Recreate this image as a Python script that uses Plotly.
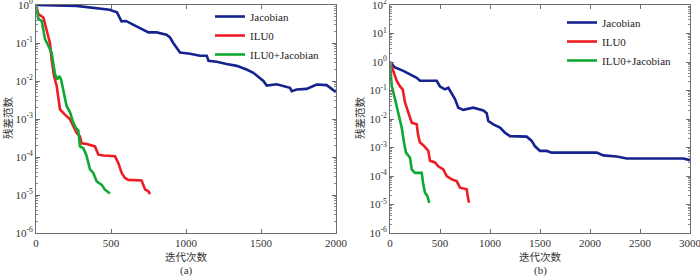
import plotly.graph_objects as go

# ---------------- data ----------------
# Panel (a)
a_jac_x = [0, 270, 490, 540, 570, 600, 650, 715, 750, 805, 870, 893, 915, 960, 1027, 1093, 1138, 1150, 1204,
           1271, 1338, 1404, 1449, 1516, 1538, 1604, 1693, 1705, 1738, 1804, 1871, 1938, 2000]
a_jac_y = [1.0, 0.95, 0.75, 0.64, 0.37, 0.38, 0.30, 0.23, 0.19, 0.19, 0.165, 0.14, 0.10, 0.056, 0.052, 0.046,
           0.046, 0.034, 0.032, 0.028, 0.025, 0.020, 0.0165, 0.010, 0.0076, 0.0082, 0.0066, 0.0054, 0.006,
           0.0062, 0.0081, 0.0078, 0.0051]
a_ilu_x = [0, 16, 49, 71, 93, 104, 120, 138, 156, 160, 193, 227, 249, 271, 293, 304, 338, 393, 416, 449, 527,
           549, 571, 593, 616, 704, 727, 749, 760]
a_ilu_y = [1.0, 0.58, 0.47, 0.23, 0.10, 0.037, 0.0135, 0.0074, 0.0022, 0.0018, 0.0013, 0.00098, 0.00065,
           0.00043, 0.00035, 0.00023, 0.00022, 0.00019, 0.000115, 0.00011, 0.000105, 6.9e-5, 3.8e-5, 2.8e-5,
           2.5e-5, 2.4e-5, 1.4e-5, 1.25e-5, 1.05e-5]
a_gre_x = [0, 16, 38, 49, 60, 82, 104, 116, 127, 142, 156, 167, 182, 204, 227, 249, 267, 282, 293, 316, 338,
           360, 382, 404, 438, 460, 493]
a_gre_y = [1.0, 0.43, 0.38, 0.23, 0.126, 0.085, 0.056, 0.0275, 0.015, 0.011, 0.0135, 0.011, 0.006, 0.0022,
           0.0015, 0.00079, 0.00057, 0.0005, 0.00019, 0.00017, 0.000105, 4.7e-5, 3.8e-5, 2.3e-5, 1.85e-5,
           1.38e-5, 1.1e-5]

# Panel (b)
b_jac_x = [0, 50, 133, 200, 267, 300, 367, 467, 500, 550, 583, 617, 650, 683, 733, 833, 933, 967, 983, 1033,
           1100, 1150, 1200, 1367, 1417, 1450, 1500, 1567, 1617, 2067, 2133, 2267, 2367, 2933, 3000]
b_jac_y = [1.0, 0.64, 0.49, 0.37, 0.28, 0.22, 0.22, 0.22, 0.138, 0.11, 0.125, 0.074, 0.050, 0.025, 0.021,
           0.025, 0.020, 0.016, 0.0085, 0.0065, 0.005, 0.0033, 0.0025, 0.0024, 0.0017, 0.0011, 0.00076,
           0.00076, 0.00066, 0.00066, 0.00053, 0.00048, 0.00041, 0.00041, 0.00036]
b_ilu_x = [0, 33, 67, 100, 127, 150, 183, 217, 267, 283, 300, 333, 383, 400, 450, 483, 533, 567, 617, 667,
           700, 767, 777, 790]
b_ilu_y = [1.0, 0.49, 0.22, 0.138, 0.11, 0.038, 0.0166, 0.0074, 0.0065, 0.0025, 0.0015, 0.0012, 0.00076,
           0.00034, 0.0003, 0.00022, 0.00017, 0.0001, 7.6e-5, 6.6e-5, 3.9e-5, 3.4e-5, 2.0e-5, 1.15e-5]
b_gre_x = [0, 17, 50, 83, 117, 140, 160, 200, 217, 250, 317, 333, 350, 373, 393]
b_gre_y = [1.0, 0.145, 0.05, 0.0166, 0.005, 0.0015, 0.00066, 0.00044, 0.00017, 0.000129, 0.000129, 5.0e-5,
           2.6e-5, 2.0e-5, 1.15e-5]

series_names = ["Jacobian", "ILU0", "ILU0+Jacobian"]
series_colors = ["#16238f", "#ee1c24", "#10a835"]

a_xticks = [0, 500, 1000, 1500, 2000]
b_xticks = [0, 500, 1000, 1500, 2000, 2500, 3000]
a_yexp = [-6, -5, -4, -3, -2, -1, 0]
b_yexp = [-6, -5, -4, -3, -2, -1, 0, 1, 2]

x_title = "迭代次数"
y_title = "残差范数"
sub_labels = ["(a)", "(b)"]

# ---------------- figure ----------------
SERIF = "Liberation Serif, Times New Roman, serif"
CJK = "Noto Sans CJK SC"
fig = go.Figure()

panels = [
    ("x", "y", "legend", [(a_jac_x, a_jac_y), (a_ilu_x, a_ilu_y), (a_gre_x, a_gre_y)]),
    ("x2", "y2", "legend2", [(b_jac_x, b_jac_y), (b_ilu_x, b_ilu_y), (b_gre_x, b_gre_y)]),
]
for xa, ya, lg, data in panels:
    for (xs, ys), name, col in zip(data, series_names, series_colors):
        fig.add_trace(go.Scatter(x=xs, y=ys, mode="lines", name=name, xaxis=xa, yaxis=ya, legend=lg,
                                 line=dict(color=col, width=2.6)))

axis_common = dict(showgrid=False, zeroline=False, showline=True, linecolor="#6e6e6e", linewidth=1,
                   mirror="allticks", ticks="inside", ticklen=4, tickcolor="#6e6e6e", automargin=False,
                   ticklabeloverflow="allow",
                   tickfont=dict(family=SERIF, size=11, color="#333"))

def ytext(exps):
    return ["10<sup>%d</sup>" % e for e in exps]

def minor_vals(exps):
    return [m * 10 ** e for e in exps[:-1] for m in range(2, 10)]

W, H = 700, 277
ybot, ytop = 1 - 233 / H, 1 - 5 / H
minor_style = dict(ticks="inside", ticklen=2, tickcolor="#8a8a8a", showgrid=False)
fig.update_layout(
    width=W, height=H, margin=dict(l=0, r=0, t=0, b=0, autoexpand=False),
    paper_bgcolor="white", plot_bgcolor="white",
    xaxis=dict(domain=[36 / W, 336 / W], range=[0, 2000], tickvals=a_xticks, anchor="y", **axis_common),
    yaxis=dict(domain=[ybot, ytop], type="log", range=[-6, 0], tickvals=[10 ** e for e in a_yexp],
               ticktext=ytext(a_yexp), anchor="x",
               minor=dict(tickvals=minor_vals(a_yexp), **minor_style), **axis_common),
    xaxis2=dict(domain=[390 / W, 690 / W], range=[0, 3000], tickvals=b_xticks, anchor="y2", **axis_common),
    yaxis2=dict(domain=[ybot, ytop], type="log", range=[-6, 2], tickvals=[10 ** e for e in b_yexp],
                ticktext=ytext(b_yexp), anchor="x2",
                minor=dict(tickvals=minor_vals(b_yexp), **minor_style), **axis_common),
    legend=dict(x=210 / W, y=1 - 2 / H, xanchor="left", yanchor="top", bgcolor="rgba(0,0,0,0)",
                font=dict(family=SERIF, size=11, color="#222"), tracegroupgap=0, itemwidth=30),
    legend2=dict(x=562 / W, y=1 - 8 / H, xanchor="left", yanchor="top", bgcolor="rgba(0,0,0,0)",
                 font=dict(family=SERIF, size=11, color="#222"), tracegroupgap=0, itemwidth=30),
    showlegend=True,
)

anns = []
for cx, lab in [(186, sub_labels[0]), (540, sub_labels[1])]:
    anns.append(dict(x=cx / W, y=1 - 256 / H, xref="paper", yref="paper", text=x_title, showarrow=False,
                     font=dict(family=CJK, size=10.5, color="#333"), xanchor="center", yanchor="middle"))
    anns.append(dict(x=cx / W, y=1 - 270 / H, xref="paper", yref="paper", text=lab, showarrow=False,
                     font=dict(family=SERIF, size=11, color="#333"), xanchor="center", yanchor="middle"))
for cx in [7, 359]:
    anns.append(dict(x=cx / W, y=1 - 118 / H, xref="paper", yref="paper", text=y_title, showarrow=False,
                     textangle=-90, font=dict(family=CJK, size=10.5, color="#333"),
                     xanchor="center", yanchor="middle"))
fig.update_layout(annotations=anns)

fig.write_html("out.html", config={"displayModeBar": False},
               post_script="document.body.style.margin='0';")
